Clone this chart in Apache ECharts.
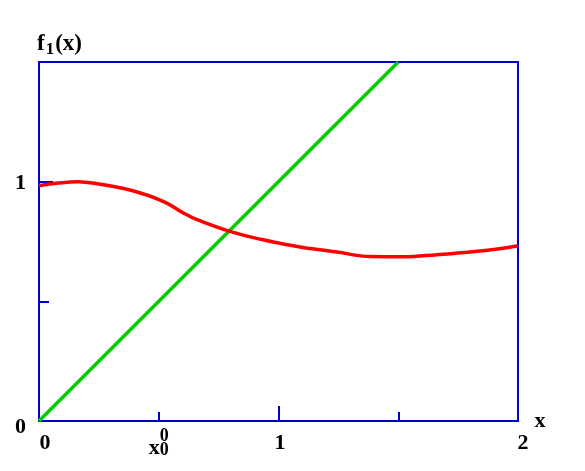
<!DOCTYPE html>
<html>
<head>
<meta charset="utf-8">
<script src="https://cdn.jsdelivr.net/npm/echarts@6/dist/echarts.min.js"></script>
<style>html,body{margin:0;padding:0;background:#fff;}#c{width:585px;height:471px;}</style>
</head>
<body>
<div id="c"></div>
<script>
// Data
const redX = [0, 0.08, 0.163, 0.25, 0.38, 0.518, 0.601, 0.66, 0.797, 0.935, 1.006, 1.102, 1.244, 1.382, 1.52, 1.662, 1.8, 1.937, 2.0];
const redY = [0.983, 0.994, 1.0, 0.99, 0.965, 0.918, 0.870, 0.841, 0.792, 0.757, 0.743, 0.725, 0.706, 0.687, 0.686, 0.695, 0.706, 0.722, 0.732];
const greenX = [0, 1.5];
const greenY = [0, 1.5];
const xTickLabels = {0: '0', 0.5: 'x00', 1: '1', 2: '2'};
const yTickLabels = {0: '0', 1: '1'};

const BLUE = '#0000cd';
const FONT = '"Liberation Serif", "DejaVu Serif", serif';
const chart = echarts.init(document.getElementById('c'));

const pairs = (xs, ys) => xs.map((x, i) => [x, ys[i]]);

chart.setOption({
  animation: false,
  backgroundColor: '#fff',
  grid: {left: 39, right: 67, top: 62, bottom: 50, show: true, borderColor: BLUE, borderWidth: 2, backgroundColor: 'transparent'},
  xAxis: [{
    type: 'value', min: 0, max: 2, interval: 0.5,
    name: 'x', nameLocation: 'end', nameGap: 16,
    nameTextStyle: {fontFamily: FONT, fontWeight: 'bold', fontSize: 22, color: '#000', verticalAlign: 'middle', padding: [0, 0, 6, 0]},
    axisLine: {show: true, lineStyle: {color: BLUE, width: 2}},
    axisTick: {show: true, inside: true, length: 9, lineStyle: {color: BLUE, width: 2}},
    splitLine: {show: false},
    axisLabel: {
      margin: 9,
      fontFamily: FONT, fontWeight: 'bold', color: '#000',
      formatter: function (v) {
        const t = xTickLabels[v];
        if (t === undefined) return '';
        if (t === 'x00') return '{pad|x}{z|0}\n{x|x}{zs|0}';
        if (v === 0) return '{l0|' + t + '}';
        if (v === 2) return '{l2|' + t + '}';
        return '{l|' + t + '}';
      },
      rich: {
        l: {fontFamily: FONT, fontWeight: 'bold', fontSize: 22, lineHeight: 24, color: '#000', padding: [3, 0, 0, 3]},
        l0: {fontFamily: FONT, fontWeight: 'bold', fontSize: 22, lineHeight: 24, color: '#000', padding: [3, 0, 0, 12]},
        l2: {fontFamily: FONT, fontWeight: 'bold', fontSize: 22, lineHeight: 24, color: '#000', padding: [3, 0, 0, 10]},
        pad: {fontFamily: FONT, fontWeight: 'bold', fontSize: 22, lineHeight: 12, color: 'rgba(0,0,0,0)'},
        x: {fontFamily: FONT, fontWeight: 'bold', fontSize: 22, lineHeight: 13, color: '#000'},
        z: {fontFamily: FONT, fontWeight: 'bold', fontSize: 18, lineHeight: 12, color: '#000'},
        zs: {fontFamily: FONT, fontWeight: 'bold', fontSize: 18, lineHeight: 13, color: '#000', padding: [4, 0, 0, 0]}
      }
    }
  }, {
    type: 'value', min: 0, max: 2, interval: 1, position: 'bottom',
    axisLine: {show: false},
    axisTick: {show: true, inside: true, length: 15, lineStyle: {color: BLUE, width: 2}},
    axisLabel: {show: false},
    splitLine: {show: false}
  }],
  yAxis: [{
    type: 'value', min: 0, max: 1.5, interval: 0.5,
    name: '{f|f}{s|1}{f|(x)}', nameLocation: 'end', nameGap: 6,
    nameTextStyle: {
      align: 'left', verticalAlign: 'bottom', padding: [0, 0, 0, -2],
      rich: {
        f: {fontFamily: FONT, fontWeight: 'bold', fontSize: 23, color: '#000', lineHeight: 24},
        s: {fontFamily: FONT, fontWeight: 'bold', fontSize: 17, color: '#000', lineHeight: 24, padding: [12, 1, 0, 1]}
      }
    },
    axisLine: {show: true, lineStyle: {color: BLUE, width: 2}},
    axisTick: {show: true, inside: true, length: 10, lineStyle: {color: BLUE, width: 2}},
    splitLine: {show: false},
    axisLabel: {
      margin: 13,
      color: '#000',
      formatter: function (v) {
        const t = yTickLabels[v];
        if (t === undefined) return '';
        return v === 0 ? '{a|' + t + '}' : '{b|' + t + '}';
      },
      rich: {
        a: {fontFamily: FONT, fontWeight: 'bold', fontSize: 22, color: '#000', lineHeight: 24, padding: [12, 0, 0, 0]},
        b: {fontFamily: FONT, fontWeight: 'bold', fontSize: 22, color: '#000', lineHeight: 24, padding: [4, 0, 0, 0]}
      }
    }
  }, {
    type: 'value', min: 0, max: 1.5, interval: 1, position: 'left',
    axisLine: {show: false},
    axisTick: {show: true, inside: true, length: 14, lineStyle: {color: BLUE, width: 2}},
    axisLabel: {show: false},
    splitLine: {show: false}
  }],
  series: [{
    type: 'line', xAxisIndex: 0, yAxisIndex: 0,
    data: pairs(greenX, greenY), showSymbol: false,
    lineStyle: {color: '#00cc00', width: 3.5}, z: 3
  }, {
    type: 'line', xAxisIndex: 0, yAxisIndex: 0,
    data: pairs(redX, redY), showSymbol: false, smooth: 0.4,
    lineStyle: {color: '#ff0000', width: 3.5}, z: 4
  }]
});
</script>
</body>
</html>
